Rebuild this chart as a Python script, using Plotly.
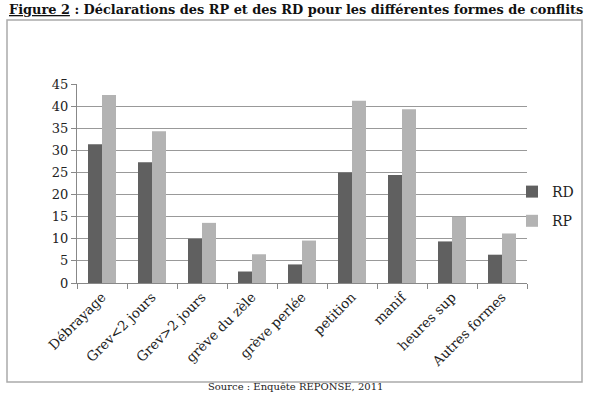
import plotly.graph_objects as go

categories = ["Débrayage", "Grev<2 jours", "Grev>2 jours", "grève du zèle", "grève perlée",
              "petition", "manif", "heures sup", "Autres formes"]
rd = [31.4, 27.3, 10.0, 2.6, 4.2, 25.0, 24.4, 9.4, 6.4]
rp = [42.5, 34.3, 13.6, 6.5, 9.6, 41.2, 39.3, 15.0, 11.2]
y_ticks = [0, 5, 10, 15, 20, 25, 30, 35, 40, 45]

W, H = 591, 394
L, R, T, B = 77, 64, 84, 111
pw = W - L - R
ph = H - T - B

def px_x(px):
    return (px - L) / pw

def px_y(py):
    return (H - B - py) / ph

font_family = "DejaVu Serif"

fig = go.Figure()
fig.add_trace(go.Bar(x=categories, y=rd, name="RD", legendgroup="rd",
                     marker=dict(color="#606060", line=dict(width=0))))
fig.add_trace(go.Bar(x=categories, y=rp, name="RP", legendgroup="rp",
                     marker=dict(color="#b3b3b3", line=dict(width=0))))

fig.update_layout(
    width=W, height=H,
    margin=dict(l=L, r=R, t=T, b=B, pad=0),
    paper_bgcolor="white", plot_bgcolor="white",
    barmode="group", bargap=0.44, bargroupgap=0,
    font=dict(family=font_family, size=11, color="#222"),
    showlegend=True,
    legend=dict(x=px_x(512), y=px_y(176), xanchor="left", yanchor="top",
                font=dict(size=14, family=font_family, color="#222"),
                itemwidth=30, traceorder="grouped", tracegroupgap=8,
                bgcolor="rgba(0,0,0,0)"),
    xaxis=dict(type="category", tickson="boundaries", ticks="outside", ticklen=5,
               tickcolor="#888", showline=True, linecolor="#888", linewidth=1,
               tickangle=-45, tickfont=dict(size=13.5, family=font_family, color="#222"),
               showgrid=False),
    yaxis=dict(range=[0, 45], tickvals=y_ticks, showgrid=True, gridcolor="#999",
               gridwidth=1, showline=True, linecolor="#888", ticks="outside",
               ticklen=5, tickcolor="#888", zeroline=False,
               tickfont=dict(size=13, family=font_family, color="#222")),
)

fig.add_shape(type="rect", xref="paper", yref="paper",
              x0=px_x(7), x1=px_x(582), y0=px_y(382), y1=px_y(20),
              line=dict(color="#aaa", width=1.5), fillcolor="rgba(0,0,0,0)", layer="below")

fig.add_annotation(xref="paper", yref="paper", x=px_x(295.5), y=px_y(10),
                   xanchor="center", yanchor="middle", showarrow=False,
                   text="<u>Figure 2</u> : Déclarations des RP et des RD pour les différentes formes de conflits",
                   font=dict(size=12.9, family=font_family, color="#111", weight="bold"))
fig.add_annotation(xref="paper", yref="paper", x=px_x(295), y=px_y(394),
                   xanchor="center", yanchor="bottom", showarrow=False,
                   text="Source : Enquête REPONSE, 2011",
                   font=dict(size=10, family=font_family, color="#222"))

fig.write_html("out.html")
